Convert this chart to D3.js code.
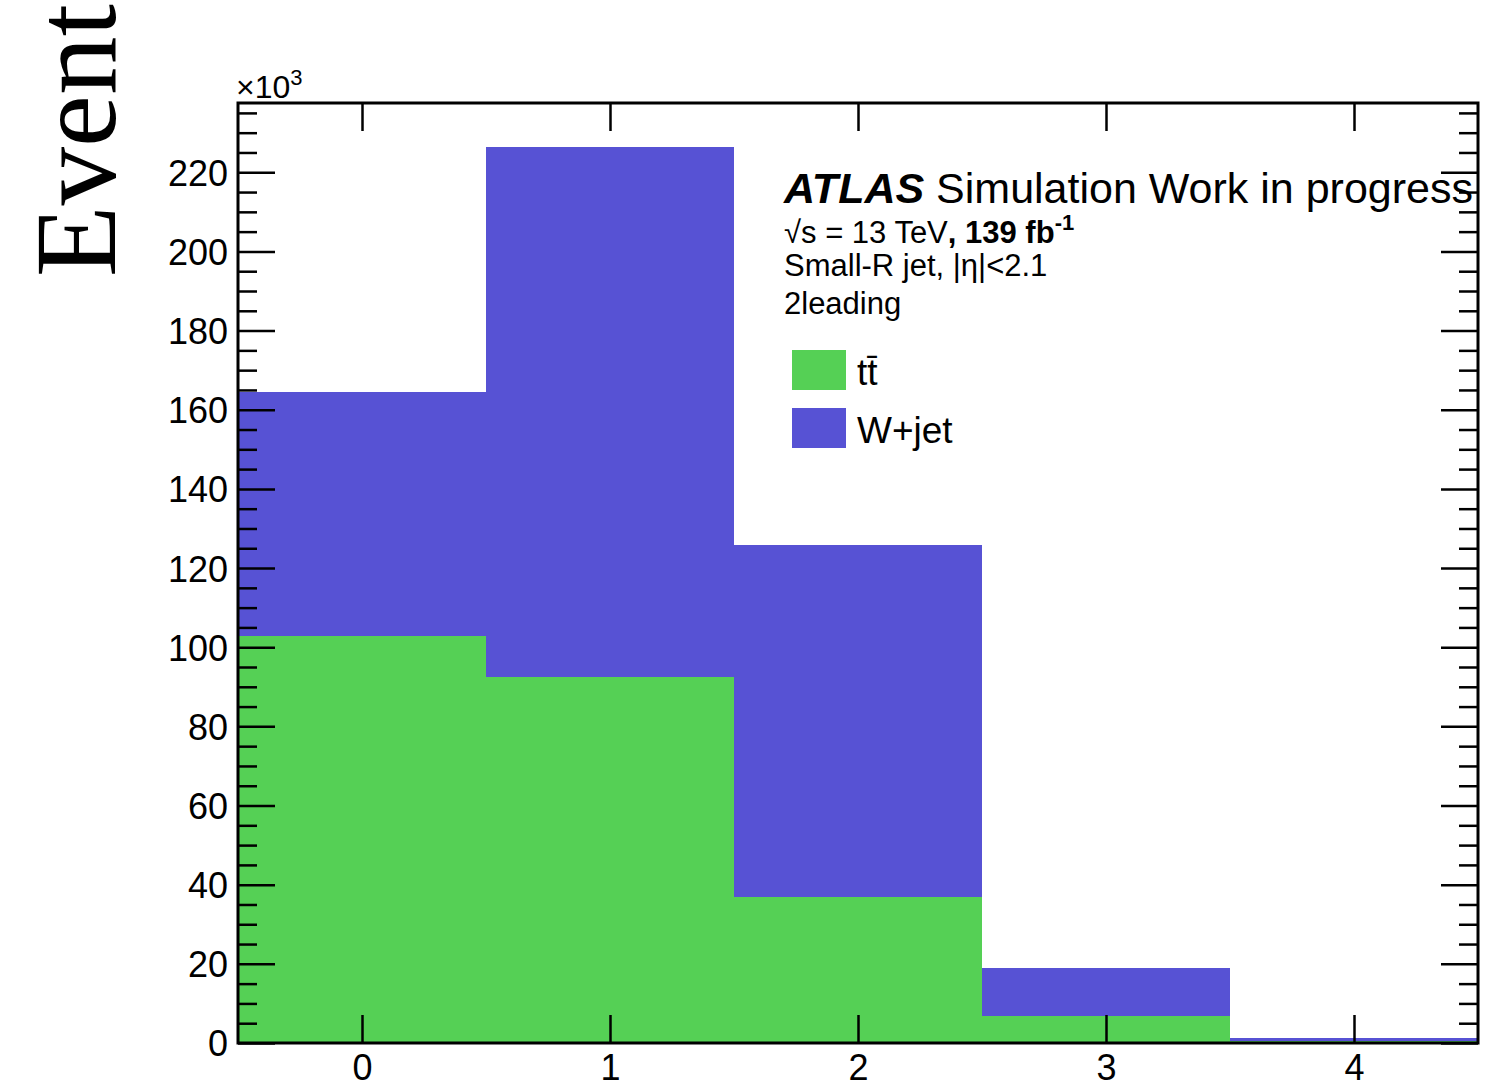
<!DOCTYPE html>
<html>
<head>
<meta charset="utf-8">
<script src="https://cdn.jsdelivr.net/npm/d3@7"></script>
<style>
  html, body { margin: 0; padding: 0; background: #fff; }
  svg { display: block; }
  text { font-family: "Liberation Sans", Arial, Helvetica, sans-serif; fill: #000; }
  text.serif { font-family: "Liberation Serif", "Times New Roman", serif; }
</style>
</head>
<body>
<svg id="chart" width="1486" height="1089"></svg>
<script>
// Bin centres (number of jets) and stacked yields, in units of 10^3 events
const bins = [0, 1, 2, 3, 4];
const ttbar = [102.8, 92.4, 36.9, 6.8, 0.5];
const wjet  = [61.6, 134.1, 88.9, 12.1, 0.8];
const xTickLabels = ["0", "1", "2", "3", "4"];
const yMajorTicks = [0, 20, 40, 60, 80, 100, 120, 140, 160, 180, 200, 220];
const seriesNames = ["tt̄", "W+jet"];
const seriesColors = ["#55d055", "#5752d4"];

const svg = d3.select("#chart");
const frame = { left: 238, right: 1478, top: 103, bottom: 1043 };

const x = d3.scaleLinear().domain([-0.5, 4.5]).range([frame.left, frame.right]);
const y = d3.scaleLinear().domain([0, 237.5]).range([frame.bottom, frame.top]);

// stacked histogram
const rows = bins.map((b, i) => ({ bin: b, ttbar: ttbar[i], wjet: wjet[i] }));
const stacked = d3.stack().keys(["ttbar", "wjet"])(rows);

const gBars = svg.append("g");
stacked.forEach((layer, li) => {
  gBars.selectAll(null)
    .data(layer)
    .join("rect")
    .attr("x", d => x(d.data.bin - 0.5))
    .attr("width", d => x(d.data.bin + 0.5) - x(d.data.bin - 0.5))
    .attr("y", d => y(d[1]))
    .attr("height", d => y(d[0]) - y(d[1]))
    .attr("fill", seriesColors[li])
    .attr("shape-rendering", "crispEdges");
});

// axes: major + minor ticks on all four sides, pointing inward
const yMinor = d3.range(0, 237.5, 5).filter(v => v % 20 !== 0);
const majorLen = 37, minorLen = 19, xTickLen = 28;

function styleAxis(g) {
  g.select(".domain").remove();
  g.selectAll(".tick line").attr("stroke", "#000").attr("stroke-width", 2.5);
}

// left
svg.append("g").attr("transform", `translate(${frame.left},0)`)
  .call(d3.axisLeft(y).tickValues(yMajorTicks).tickSizeInner(-majorLen).tickSizeOuter(0).tickPadding(10).tickFormat(d3.format("d")))
  .call(styleAxis)
  .call(g => g.selectAll("text").attr("font-size", 36).attr("x", -10).attr("dy", "0.36em"));
svg.append("g").attr("transform", `translate(${frame.left},0)`)
  .call(d3.axisLeft(y).tickValues(yMinor).tickSizeInner(-minorLen).tickSizeOuter(0).tickFormat(""))
  .call(styleAxis);

// right
svg.append("g").attr("transform", `translate(${frame.right},0)`)
  .call(d3.axisRight(y).tickValues(yMajorTicks).tickSizeInner(-majorLen).tickSizeOuter(0).tickFormat(""))
  .call(styleAxis);
svg.append("g").attr("transform", `translate(${frame.right},0)`)
  .call(d3.axisRight(y).tickValues(yMinor).tickSizeInner(-minorLen).tickSizeOuter(0).tickFormat(""))
  .call(styleAxis);

// bottom
svg.append("g").attr("transform", `translate(0,${frame.bottom})`)
  .call(d3.axisBottom(x).tickValues(bins).tickSizeInner(-xTickLen).tickSizeOuter(0).tickPadding(12).tickFormat((d, i) => xTickLabels[i]))
  .call(styleAxis)
  .call(g => g.selectAll("text").attr("font-size", 36).attr("y", 11));

// top
svg.append("g").attr("transform", `translate(0,${frame.top})`)
  .call(d3.axisTop(x).tickValues(bins).tickSizeInner(-xTickLen).tickSizeOuter(0).tickFormat(""))
  .call(styleAxis);

// frame
svg.append("rect")
  .attr("x", frame.left).attr("y", frame.top)
  .attr("width", frame.right - frame.left).attr("height", frame.bottom - frame.top)
  .attr("fill", "none").attr("stroke", "#000").attr("stroke-width", 3);

// y-axis multiplier
const mult = svg.append("text").attr("x", 236).attr("y", 98).attr("font-size", 32);
mult.append("tspan").text("×10");
mult.append("tspan").attr("font-size", 22).attr("dy", -13).text("3");

// y-axis title
svg.append("text")
  .attr("class", "serif")
  .attr("transform", "translate(115,277) rotate(-90)")
  .attr("font-size", 117)
  .text("Event");

// ATLAS label block
const lab = svg.append("g");
const t1 = lab.append("text").attr("x", 784).attr("y", 203).attr("font-size", 43);
t1.append("tspan").attr("font-weight", "bold").attr("font-style", "italic").text("ATLAS");
t1.append("tspan").text(" Simulation Work in progress");

const t2 = lab.append("text").attr("x", 784).attr("y", 243).attr("font-size", 31);
t2.append("tspan").text("√s = 13 TeV");
t2.append("tspan").attr("font-weight", "bold").text(", 139 fb");
t2.append("tspan").attr("font-weight", "bold").attr("font-size", 22).attr("dy", -13).text("-1");

lab.append("text").attr("x", 784).attr("y", 276).attr("font-size", 31).text("Small-R jet, |η|<2.1");
lab.append("text").attr("x", 784).attr("y", 314).attr("font-size", 31).text("2leading");

// legend
const legend = svg.append("g");
seriesNames.forEach((name, i) => {
  const yy = 350 + i * 58;
  legend.append("rect").attr("x", 792).attr("y", yy).attr("width", 54).attr("height", 40)
    .attr("fill", seriesColors[i]);
  legend.append("text").attr("x", 857).attr("y", yy + 35).attr("font-size", 37).text(name);
});
</script>
</body>
</html>
